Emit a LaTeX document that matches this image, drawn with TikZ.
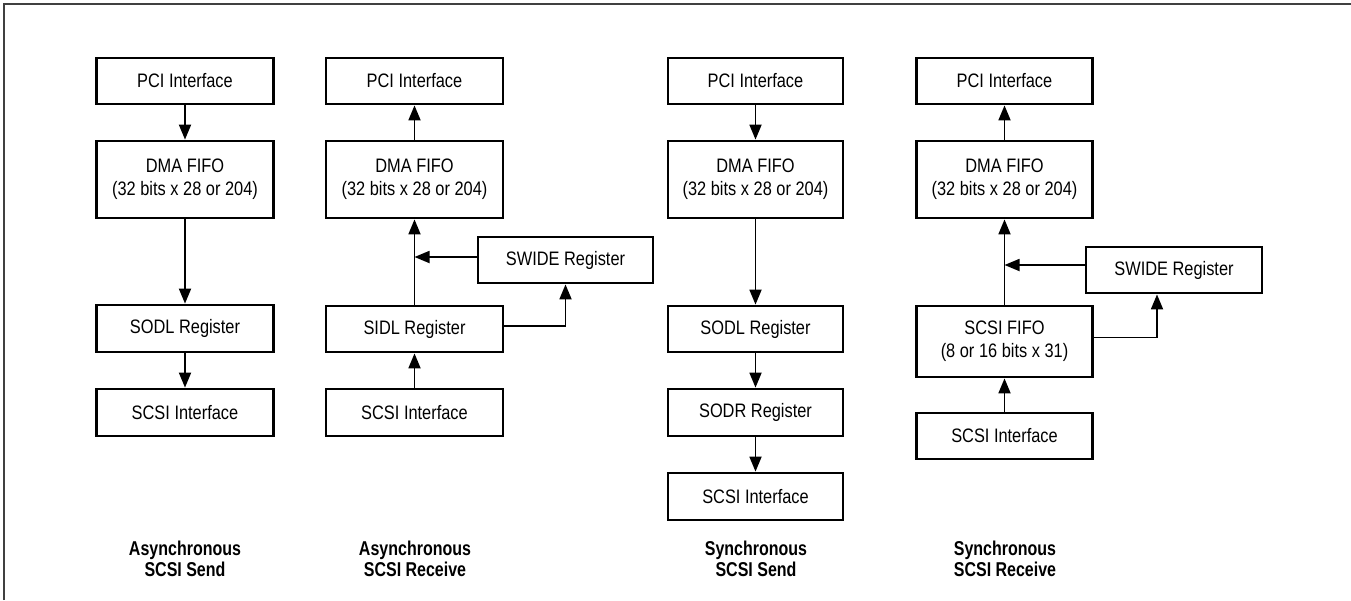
\documentclass[tikz,border=0pt]{standalone}
\usepackage{fontspec}
\setmainfont{Liberation Sans}[FakeStretch=0.84]
\newfontfamily\labelfont{Liberation Sans}[FakeStretch=0.8]
\usetikzlibrary{arrows.meta}
\begin{document}
\begin{tikzpicture}[x=1pt,y=-1pt,
  box/.style={draw=black,line width=2.8pt,inner sep=0pt,align=center,
    font=\fontsize{19.5}{23}\selectfont},
  flow/.style={line width=1.8pt,-{Triangle[length=15pt,width=12pt]}},
  caption/.style={align=center,font=\labelfont\bfseries\fontsize{20}{21.5}\selectfont},
  frame/.style={line width=1.3pt,draw=black!75}]
\useasboundingbox (0,0) rectangle (1351,600);
\draw[frame] (4,600) -- (4,4) -- (1351,4);

% Column 1: Asynchronous SCSI Send
\node[box,minimum width=177pt,minimum height=46pt] (pci1) at (185,81) {PCI Interface};
\node[box,minimum width=177pt,minimum height=77pt] (dma1) at (185,179.5) {DMA FIFO\\(32 bits x 28 or 204)};
\node[box,minimum width=177pt,minimum height=47pt] (sodl1) at (185,328.5) {SODL Register};
\node[box,minimum width=177pt,minimum height=47pt] (scsi1) at (185,412.5) {SCSI Interface};
\draw[flow] (pci1) -- (dma1);
\draw[flow] (dma1) -- (sodl1);
\draw[flow] (sodl1) -- (scsi1);
\node[caption] (cap1) at (185,559) {Asynchronous\\SCSI Send};

% Column 2: Asynchronous SCSI Receive
\node[box,minimum width=177pt,minimum height=46pt] (pci2) at (414.5,81) {PCI Interface};
\node[box,minimum width=177pt,minimum height=77pt] (dma2) at (414.5,179.5) {DMA FIFO\\(32 bits x 28 or 204)};
\node[box,minimum width=175pt,minimum height=46pt] (swide2) at (565.5,260) {SWIDE Register};
\node[box,minimum width=177pt,minimum height=46pt] (sidl2) at (414.5,329) {SIDL Register};
\node[box,minimum width=177pt,minimum height=47pt] (scsi2) at (414.5,412.5) {SCSI Interface};
\draw[flow] (dma2) -- (pci2);
\draw[flow] (sidl2) -- (dma2);
\draw[flow] (scsi2) -- (sidl2);
\draw[flow] ([yshift=3pt]swide2.west) -- ([yshift=3pt]swide2.west -| sidl2.north);
\draw[flow] ([yshift=3pt]sidl2.east) -| (swide2.south);
\node[caption] (cap2) at (415,559) {Asynchronous\\SCSI Receive};

% Column 3: Synchronous SCSI Send
\node[box,minimum width=175pt,minimum height=46pt] (pci3) at (755.5,81) {PCI Interface};
\node[box,minimum width=175pt,minimum height=77pt] (dma3) at (755.5,179.5) {DMA FIFO\\(32 bits x 28 or 204)};
\node[box,minimum width=175pt,minimum height=46pt] (sodl3) at (755.5,329) {SODL Register};
\node[box,minimum width=175pt,minimum height=47pt] (sodr3) at (755.5,412.5) {SODR Register};
\node[box,minimum width=175pt,minimum height=47pt] (scsi3) at (755.5,496.5) {SCSI Interface};
\draw[flow] (pci3) -- (dma3);
\draw[flow] (dma3) -- (sodl3);
\draw[flow] (sodl3) -- (sodr3);
\draw[flow] (sodr3) -- (scsi3);
\node[caption] (cap3) at (756,559) {Synchronous\\SCSI Send};

% Column 4: Synchronous SCSI Receive
\node[box,minimum width=176pt,minimum height=46pt] (pci4) at (1004.5,81) {PCI Interface};
\node[box,minimum width=176pt,minimum height=77pt] (dma4) at (1004.5,179.5) {DMA FIFO\\(32 bits x 28 or 204)};
\node[box,minimum width=176pt,minimum height=46pt] (swide4) at (1174,270) {SWIDE Register};
\node[box,minimum width=176pt,minimum height=71pt] (fifo4) at (1004.5,341.5) {SCSI FIFO\\(8 or 16 bits x 31)};
\node[box,minimum width=176pt,minimum height=46pt] (scsi4) at (1004.5,436) {SCSI Interface};
\draw[flow] (dma4) -- (pci4);
\draw[flow] (fifo4) -- (dma4);
\draw[flow] (scsi4) -- (fifo4);
\draw[flow] ([yshift=5pt]swide4.west) -- ([yshift=5pt]swide4.west -| fifo4.north);
\draw[flow] ([yshift=4pt]fifo4.east) -| ([xshift=-17pt]swide4.south);
\node[caption] (cap4) at (1005,559) {Synchronous\\SCSI Receive};
\end{tikzpicture}
\end{document}
